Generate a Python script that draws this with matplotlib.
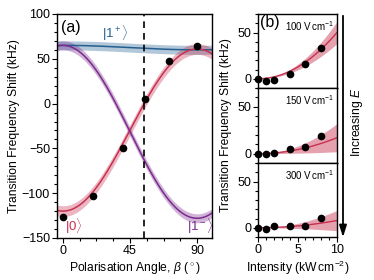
import numpy as np
import matplotlib
matplotlib.use("Agg")
import matplotlib.pyplot as plt
from matplotlib.ticker import MultipleLocator

plt.rcParams['font.family'] = ['Liberation Sans', 'DejaVu Sans']
plt.rcParams['mathtext.fontset'] = 'custom'
plt.rcParams['mathtext.rm'] = 'Liberation Sans'
plt.rcParams['mathtext.it'] = 'Liberation Sans:italic'
plt.rcParams['mathtext.sf'] = 'Liberation Sans'

# ---- Panel (a) data ----
beta_pts = [0, 20, 40, 55, 71, 90]
shift_pts = [-127, -103, -50, 5, 48, 64]
magic_angle = 54.7
# fit curves: shift = offset + amp * cos^2(beta)
state_labels = [r'$|1^+\rangle$', r'$|0\rangle$', r'$|1^-\rangle$']
state_offset = [60, 61, -128]
state_amp = [5, -181, 193]
state_err = [5, 6, 5]

# ---- Panel (b) data ----
intensity_pts = [0, 1, 2, 4, 6, 8]
field_labels = ['100', '150', '300']
shift_b = [
    [0, -2, -1, 5, 16, 33],
    [0, 0, 1, 5, 7.5, 19],
    [0, -1, 2, 2, 1.5, 11],
]
quad_coef = [0.50, 0.17, 0.078]
quad_err = [0.12, 0.15, 0.11]

red = '#c8304f'
purple = '#7b2a8e'
blue = '#245f90'
state_colors = [blue, red, purple]

W, H = 374, 280
fig = plt.figure(figsize=(W / 100, H / 100), dpi=100)

def frac(x0, y0, x1, y1):
    return [x0 / W, 1 - y1 / H, (x1 - x0) / W, (y1 - y0) / H]

fs = 8.7
tfs = 9

axa = fig.add_axes(frac(57, 14, 212, 238))
bb = np.linspace(-4, 100, 300)
c2 = np.cos(np.deg2rad(bb)) ** 2
for off, amp, err, col in zip(state_offset, state_amp, state_err, state_colors):
    y = off + amp * c2
    axa.fill_between(bb, y - err, y + err, color=col, alpha=0.35, lw=0)
    axa.plot(bb, y, color=col, lw=1.1)
axa.axvline(magic_angle, color='black', ls=(0, (4, 3)), lw=1.2)
axa.plot(beta_pts, shift_pts, 'o', color='black', ms=4.5, zorder=5)
axa.set_xlim(-4, 100)
axa.set_ylim(-150, 100)
axa.set_xticks([0, 45, 90])
axa.set_yticks([-150, -100, -50, 0, 50, 100])
axa.xaxis.set_minor_locator(MultipleLocator(11.25))
axa.yaxis.set_minor_locator(MultipleLocator(10))
axa.set_xlabel(r'Polarisation Angle, $\mathit{\beta}$ ($^\circ$)', fontsize=fs, labelpad=2)
axa.set_ylabel('Transition Frequency Shift (kHz)', fontsize=fs, labelpad=1)
axa.text(0.025, 0.975, '(a)', transform=axa.transAxes, fontsize=11.5, va='top', ha='left')
axa.text(35, 79, state_labels[0], color=blue, fontsize=9.5, ha='center', va='center')
axa.text(7, -137, state_labels[1], color=red, fontsize=9.5, ha='center', va='center')
axa.text(92, -137, state_labels[2], color=purple, fontsize=9.5, ha='center', va='center')

tops = [14, 88, 163]
bots = [88, 163, 237]
axes_b = []
ii = np.linspace(0, 10, 200)
for k in range(3):
    ax = fig.add_axes(frac(258, tops[k], 337, bots[k]))
    axes_b.append(ax)
    c, e = quad_coef[k], quad_err[k]
    ax.fill_between(ii, (c - e) * ii ** 2, (c + e) * ii ** 2, color=red, alpha=0.45, lw=0)
    ax.plot(ii, c * ii ** 2, color=red, lw=1.0)
    ax.plot(intensity_pts, shift_b[k], 'o', color='black', ms=4.5, zorder=5, clip_on=False)
    ax.set_xlim(0, 10)
    ax.set_ylim(-10, 70)
    ax.set_yticks([0, 50])
    ax.yaxis.set_minor_locator(MultipleLocator(10))
    ax.xaxis.set_minor_locator(MultipleLocator(1))
    ax.set_xticks([0, 5, 10])
    if k < 2:
        ax.tick_params(axis='x', which='both', bottom=False, labelbottom=False)
    ax.text(0.97, 0.93, field_labels[k] + r' V$\,$cm$^{-1}$', transform=ax.transAxes,
            fontsize=7, ha='right', va='top')
axes_b[0].text(0.03, 0.985, '(b)', transform=axes_b[0].transAxes, fontsize=11.5, va='top', ha='left')
axes_b[2].set_xlabel(r'Intensity (kW$\,$cm$^{-2}$)', fontsize=fs, labelpad=2)
fig.text(226 / W, 1 - 125 / H, 'Transition Frequency Shift (kHz)', rotation=90,
         fontsize=fs, ha='center', va='center')

for ax in [axa] + axes_b:
    ax.tick_params(which='both', direction='out', labelsize=tfs, width=0.8, pad=1.5)
    ax.tick_params(which='major', length=3.5)
    ax.tick_params(which='minor', length=2)
    for s in ax.spines.values():
        s.set_linewidth(1.0)

fig.add_artist(matplotlib.patches.FancyArrowPatch(
    (343 / W, 1 - 13 / H), (343 / W, 1 - 240 / H), transform=fig.transFigure,
    arrowstyle='-|>,head_length=7,head_width=2.2', color='black', lw=1.3,
    mutation_scale=1.0))
fig.text(357 / W, 1 - 122 / H, r'Increasing $\mathit{E}$', rotation=90, fontsize=fs,
         ha='center', va='center')

fig.savefig('out.png', dpi=100)
